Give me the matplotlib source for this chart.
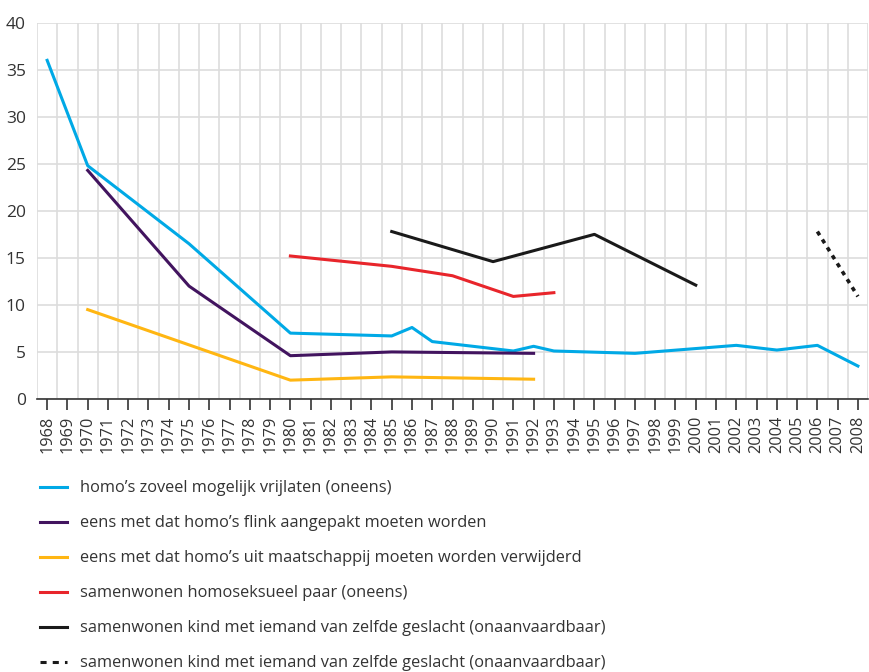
import numpy as np
import matplotlib.pyplot as plt
from matplotlib.lines import Line2D

# data
years = list(range(1968, 2009))

vrijlaten_jaar = [1968, 1970, 1975, 1980, 1985, 1986, 1987, 1991, 1992, 1993, 1997, 2002, 2004, 2006, 2008]
vrijlaten = [36.0, 24.8, 16.5, 7.0, 6.7, 7.6, 6.1, 5.1, 5.6, 5.1, 4.85, 5.7, 5.2, 5.7, 3.5]

aangepakt_jaar = [1970, 1975, 1980, 1985, 1992]
aangepakt = [24.3, 12.0, 4.6, 5.0, 4.85]

verwijderd_jaar = [1970, 1980, 1985, 1992]
verwijderd = [9.5, 2.0, 2.35, 2.1]

samenwonen_jaar = [1980, 1985, 1988, 1991, 1993]
samenwonen = [15.2, 14.1, 13.1, 10.9, 11.3]

kind_jaar = [1985, 1990, 1995, 2000]
kind = [17.8, 14.6, 17.5, 12.1]

kind2_jaar = [2006, 2008]
kind2 = [17.8, 10.9]

labels = [
    "homo\u2019s zoveel mogelijk vrijlaten (oneens)",
    "eens met dat homo\u2019s flink aangepakt moeten worden",
    "eens met dat homo\u2019s uit maatschappij moeten worden verwijderd",
    "samenwonen homoseksueel paar (oneens)",
    "samenwonen kind met iemand van zelfde geslacht (onaanvaardbaar)",
    "samenwonen kind met iemand van zelfde geslacht (onaanvaardbaar)",
]
colors = ["#00a9e6", "#42145f", "#ffb612", "#e8252b", "#1a1a1a", "#1a1a1a"]

plt.rcParams['font.family'] = ['Open Sans', 'DejaVu Sans']

fig = plt.figure(figsize=(8.69, 6.72), dpi=100)
ax = fig.add_axes([0.0426, 0.4063, 0.9563, 0.5599])

lw = 2.2
ax.plot(vrijlaten_jaar, vrijlaten, color=colors[0], lw=lw)
ax.plot(aangepakt_jaar, aangepakt, color=colors[1], lw=lw)
ax.plot(verwijderd_jaar, verwijderd, color=colors[2], lw=lw)
ax.plot(samenwonen_jaar, samenwonen, color=colors[3], lw=lw)
ax.plot(kind_jaar, kind, color=colors[4], lw=lw)
ax.plot(kind2_jaar, kind2, color=colors[5], lw=2.6, linestyle=(0, (1.2, 1.4)))

ax.set_xlim(1967.5, 2008.5)
ax.set_ylim(0, 40)
ax.set_xticks(years)
ax.set_xticklabels([str(y) for y in years], rotation=90, fontsize=11.7, color="#333333")
ax.set_xticks(np.arange(1967.5, 2009, 1), minor=True)
ax.set_yticks(range(0, 41, 5))
ax.set_yticklabels([str(v) for v in range(0, 41, 5)], fontsize=12.5, color="#333333")

ax.grid(True, which='minor', axis='x', color="#dddddd", lw=1.2)
ax.grid(True, which='major', axis='y', color="#dddddd", lw=1.2)
ax.set_axisbelow(True)
ax.tick_params(axis='x', which='minor', length=0)
ax.tick_params(axis='x', which='major', length=8, width=1.2, color="#333333", pad=4)
ax.tick_params(axis='y', length=0, pad=8)
for s in ['top', 'right', 'left']:
    ax.spines[s].set_visible(False)
ax.spines['bottom'].set_color("#333333")
ax.spines['bottom'].set_linewidth(1.2)

handles = [Line2D([], [], color=c, lw=lw) for c in colors[:5]]
handles.append(Line2D([], [], color=colors[5], lw=2.2, linestyle=(0, (2, 2))))
fig.legend(handles, labels, loc='upper left', bbox_to_anchor=(0.038, 0.295),
           frameon=False, fontsize=11.8, handlelength=1.65, handletextpad=0.8,
           labelspacing=1.16, borderaxespad=0, labelcolor="#333333")

fig.savefig("out.png", dpi=100)
